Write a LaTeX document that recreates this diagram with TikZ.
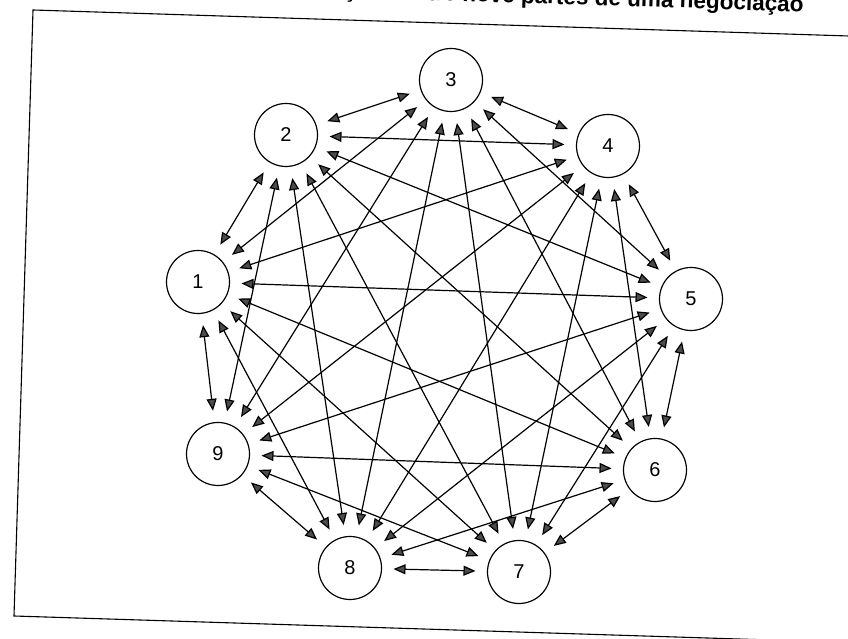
\documentclass[tikz,border=0pt]{standalone}
\usepackage{fontspec}
\setmainfont{Liberation Sans}
\usetikzlibrary{arrows.meta}
\begin{document}
\begin{tikzpicture}[
x=1pt, y=1pt,
parte/.style={circle, draw, line width=1.2pt, minimum size=63pt, inner sep=0pt, outer sep=12pt, font=\fontsize{20}{20}\selectfont},
relacao/.style={{Triangle[length=12pt,width=10pt,fill=black!70]}-{Triangle[length=12pt,width=10pt,fill=black!70]}, line width=1.2pt},
]
  \useasboundingbox (0,0) rectangle (848,639);
  \draw[line width=1.1pt] (880,602) -- (33,629) -- (14,23) -- (770,-1);
  \node[anchor=base east, rotate=-1.8, font=\bfseries\fontsize{22.5}{22.5}\selectfont] (titulo) at (807,627) {ções entre nove partes de uma negociação};
  \node[parte] (n1) at (198,357) {1};
  \node[parte] (n2) at (286,504) {2};
  \node[parte] (n3) at (451,559) {3};
  \node[parte] (n4) at (608,493) {4};
  \node[parte] (n5) at (691,340) {5};
  \node[parte] (n6) at (655,169) {6};
  \node[parte] (n7) at (519,67) {7};
  \node[parte] (n8) at (350,71) {8};
  \node[parte] (n9) at (218,185) {9};
  \foreach \i in {1,...,8}{
    \pgfmathtruncatemacro{\inicio}{\i+1}
    \foreach \j in {\inicio,...,9}{
      \draw[relacao] (n\i) -- (n\j);
    }
  }
\end{tikzpicture}
\end{document}
